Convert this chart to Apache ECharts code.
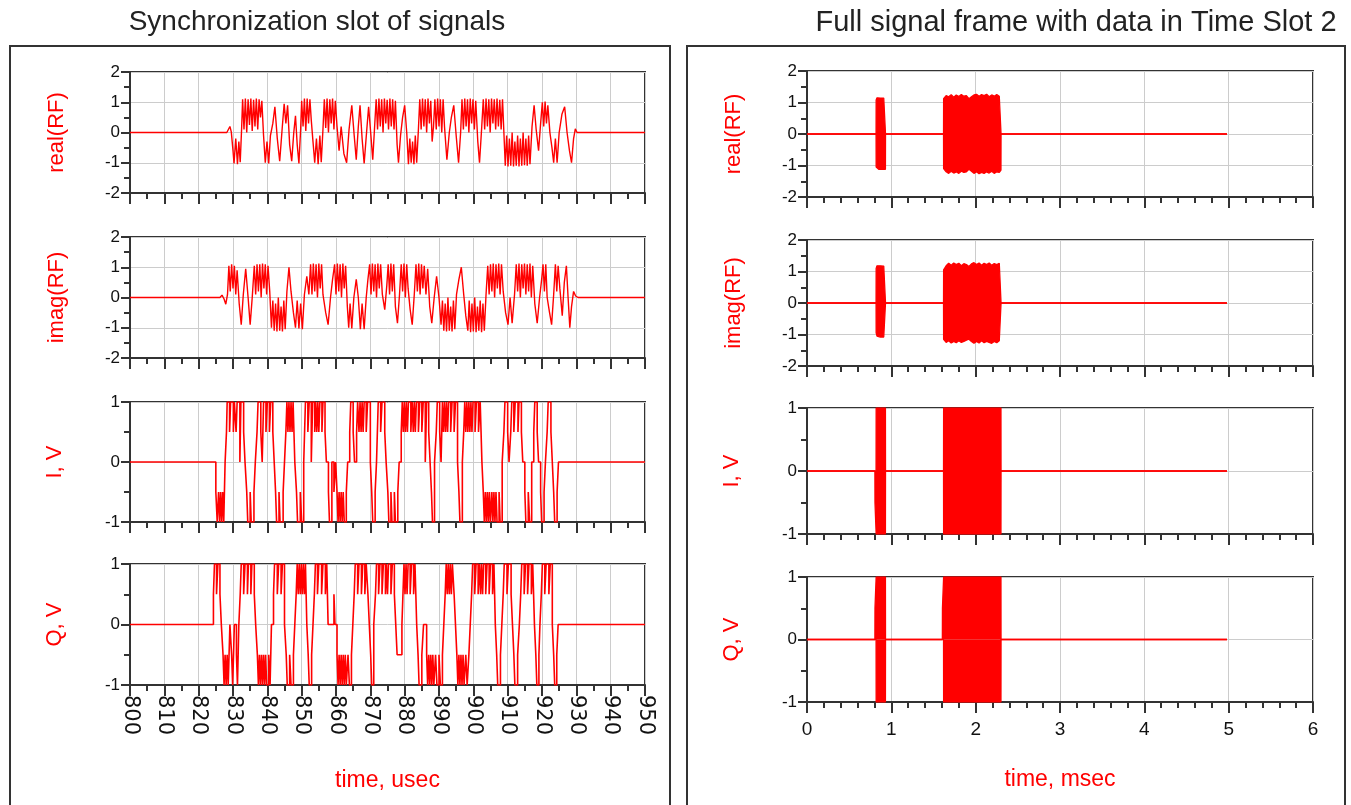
<!DOCTYPE html>
<html><head><meta charset="utf-8">
<script src="https://cdn.jsdelivr.net/npm/echarts@6/dist/echarts.min.js"></script>
<style>html,body{margin:0;padding:0;background:#fff}#c{width:1351px;height:805px}</style>
</head><body><div id="c"></div>
<script>
// ---------------- DATA ----------------
const panelTitles = ['Synchronization slot of signals', 'Full signal frame with data in Time Slot 2'];
const yNames = ['real(RF)', 'imag(RF)', 'I, V', 'Q, V'];
const xNames = ['time, usec', 'time, msec'];
const leftXRange = [800, 950, 10];   // min, max, interval (usec)
const rightXRange = [0, 6, 1];       // min, max, interval (msec)
const rfYRange = [-2, 2, 1];
const iqYRange = [-1, 1, 1];

// Left panel: synchronization slot, time in usec
const leftRealRF = [
[800,0],[828.2,0],[828.7,0.06],[829.1,0.2],[829.5,0.02],
[830.0,-0.6],[830.3,-1.02],[830.8,-0.2],[831.3,-1.05],[831.7,-0.3],[832.1,-0.98],[832.5,0.1],
[832.8,1.1],[833.2,0.1],[833.6,1.12],[834.0,0.0],[834.4,1.1],[834.8,0.25],[835.2,1.12],[835.6,0.05],[836.0,1.08],[836.4,0.2],[836.8,1.12],[837.2,0.1],[837.6,1.1],[838.0,0.5],[838.4,1.05],[838.9,-0.1],
[839.4,-1.0],[839.9,-0.3],[840.4,-1.02],[840.9,-0.1],
[841.6,0.3],[842.2,0.85],[842.9,-0.2],[843.6,-0.95],[844.3,0.1],[844.9,0.95],[845.4,0.3],[845.9,0.9],[846.5,-0.4],[847.1,-0.95],[847.7,0.0],[848.2,0.55],[848.7,-0.4],[849.2,-1.02],
[849.7,0.1],[850.0,1.05],[850.4,0.2],[850.8,1.12],[851.2,0.05],[851.6,1.12],[852.0,0.3],[852.4,1.1],[852.8,0.4],
[853.3,-0.3],[853.8,-1.0],[854.3,-0.2],[854.8,-1.05],[855.3,-0.1],[855.7,-0.98],[856.2,0.1],
[856.6,1.1],[857.0,0.15],[857.4,1.12],[857.8,0.0],[858.2,1.1],[858.6,0.3],[859.0,1.12],[859.4,0.1],[859.8,1.05],[860.3,0.2],
[860.9,-0.6],[861.5,0.2],[862.3,-0.7],[863.1,-1.0],[863.8,0.1],[864.6,0.9],[865.3,-0.1],[865.9,-0.9],[866.5,0.2],[867.0,0.9],[867.6,-0.2],[868.2,-1.02],
[868.9,0.0],[869.5,0.85],[870.1,0.0],[870.7,-0.9],[871.3,0.3],
[871.7,1.1],[872.1,0.1],[872.5,1.12],[872.9,0.2],[873.3,1.1],[873.7,0.0],[874.1,1.12],[874.5,0.3],[874.9,1.08],[875.3,0.1],[875.7,1.12],[876.1,0.2],[876.5,1.1],[876.9,0.1],[877.3,1.05],
[877.8,-0.4],[878.2,-1.0],[878.8,-0.1],[879.4,0.5],[880.0,0.9],[880.6,0.0],
[881.1,-1.05],[881.5,-0.2],[881.9,-1.0],[882.3,-0.3],[882.7,-1.05],[883.1,-0.1],[883.5,-1.0],[884.0,0.1],
[884.4,1.1],[884.8,0.1],[885.2,1.12],[885.6,0.2],[886.0,1.1],[886.4,0.0],[886.8,1.12],[887.2,0.3],[887.6,1.05],[888.0,-0.3],[888.4,0.2],[888.8,1.1],[889.2,0.1],[889.6,1.12],[890.0,0.2],[890.4,1.1],[890.8,0.0],[891.2,1.1],[891.6,0.2],
[892.3,-0.9],[893.0,0.0],[893.6,0.5],[894.3,0.9],[895.0,-0.1],[895.7,-1.0],[896.3,0.0],
[896.7,1.1],[897.1,0.1],[897.5,1.12],[897.9,0.2],[898.3,1.1],[898.7,0.0],[899.1,1.12],[899.5,0.3],[899.9,1.1],[900.3,0.1],[900.7,1.05],
[901.3,-0.3],[901.8,-1.0],[902.4,0.1],
[902.9,1.1],[903.3,0.1],[903.7,1.12],[904.1,0.2],[904.5,1.1],[904.9,0.0],[905.3,1.12],[905.7,0.3],[906.1,1.1],[906.5,0.1],[906.9,1.12],[907.3,0.2],[907.7,1.08],[908.1,0.1],[908.5,1.1],[908.9,0.0],
[909.3,-1.1],[909.7,-0.1],[910.1,-1.12],[910.5,-0.2],[910.9,-1.1],[911.3,0.0],[911.7,-1.12],[912.1,-0.3],[912.5,-1.1],[912.9,-0.1],[913.3,-1.12],[913.7,-0.2],[914.1,-1.1],[914.5,0.0],[914.9,-1.08],[915.3,-0.2],[915.7,-1.1],[916.1,-0.1],[916.5,-1.05],
[917.1,0.2],[917.7,0.9],[918.3,0.1],[919.0,-0.6],[919.6,0.3],[920.1,1.0],[920.5,0.2],[920.9,1.02],[921.3,0.3],[921.7,0.9],[922.3,0.0],[922.9,-0.5],[923.4,-1.0],[923.9,-0.2],[924.4,-1.0],[925.0,0.0],[925.8,0.6],[926.6,0.85],[927.3,0.0],[928.0,-0.6],[928.6,-1.0],[929.2,-0.2],[929.7,0.12],[930.2,0.0],
[950,0]
];

const leftImagRF = [
[800,0],[826.2,0],[826.8,0.08],[827.4,-0.05],[827.9,-0.22],[828.4,0.1],
[828.8,1.05],[829.2,0.2],[829.6,1.1],[830.0,0.3],[830.4,1.05],[830.8,0.1],[831.2,0.9],
[831.8,-0.2],[832.4,-0.9],[833.0,0.1],[833.7,0.95],[834.4,0.0],[835.0,-0.9],[835.6,0.0],
[836.2,1.05],[836.6,0.1],[837.0,1.1],[837.4,0.2],[837.8,1.1],[838.2,0.0],[838.6,1.12],[839.0,0.3],[839.4,1.1],[839.8,0.1],[840.2,1.05],[840.7,0.2],
[841.2,-1.0],[841.6,-0.1],[842.0,-1.1],[842.4,-0.2],[842.8,-1.12],[843.2,0.0],[843.6,-1.1],[844.0,-0.3],[844.4,-1.12],[844.8,-0.1],[845.2,-1.05],[845.7,0.2],
[846.3,1.0],[846.9,0.2],[847.6,-0.5],[848.2,-1.0],[848.7,-0.1],[849.2,-1.02],[849.7,-0.2],[850.2,-1.05],[850.8,0.1],
[851.5,0.7],[852.1,0.1],[852.6,1.1],[853.0,0.1],[853.4,1.12],[853.8,0.2],[854.2,1.1],[854.6,0.0],[855.0,1.12],[855.4,0.3],[855.8,1.1],[856.2,0.1],
[857.0,-0.5],[857.7,-0.9],[858.4,0.0],[859.0,0.6],
[859.6,1.1],[860.0,0.1],[860.4,1.12],[860.8,0.2],[861.2,1.1],[861.6,0.0],[862.0,1.12],[862.4,0.3],[862.8,1.05],
[863.3,-0.3],[863.7,-1.0],[864.1,-0.2],[864.6,-1.02],[865.2,0.0],[865.9,0.6],[866.5,0.0],[867.1,-1.05],[867.6,-0.2],[868.2,-1.05],[868.8,0.0],
[869.3,0.6],[869.8,1.1],[870.2,0.1],[870.6,1.12],[871.0,0.2],[871.4,1.1],[871.8,0.0],[872.2,1.12],[872.6,0.3],[873.0,1.1],[873.5,0.1],
[874.2,-0.4],[874.8,0.4],[875.2,1.1],[875.6,0.1],[876.0,1.12],[876.4,0.2],[876.8,1.1],[877.3,-0.3],[877.9,-0.85],[878.5,0.1],[879.0,1.1],[879.4,0.2],[879.8,1.12],[880.2,0.0],[880.6,1.1],[881.0,0.3],[881.6,-0.4],[882.2,-0.9],[882.8,0.1],[883.3,1.1],[883.7,0.2],[884.1,1.12],[884.5,0.1],[884.9,1.1],[885.3,0.3],[885.7,1.05],[886.2,0.1],[886.7,0.95],
[887.3,-0.3],[887.9,-0.85],[888.6,0.0],[889.3,0.7],[890.0,0.0],
[890.6,-0.9],[891.0,-0.1],[891.4,-1.1],[891.8,-0.2],[892.2,-1.12],[892.6,0.0],[893.0,-1.1],[893.4,-0.3],[893.8,-1.12],[894.2,-0.1],[894.6,-1.05],[895.1,0.1],
[895.8,0.6],[896.5,1.0],[897.2,0.1],[897.8,-0.6],
[898.4,-1.1],[898.8,-0.1],[899.2,-1.15],[899.6,-0.2],[900.0,-1.12],[900.4,0.0],[900.8,-1.15],[901.2,-0.3],[901.6,-1.1],[902.0,-0.1],[902.4,-1.15],[902.8,-0.2],[903.2,-1.1],[903.7,0.1],
[904.2,1.05],[904.6,0.1],[905.0,1.1],[905.4,0.2],[905.8,1.12],[906.2,0.0],[906.6,1.1],[907.0,0.3],[907.4,1.12],[907.8,0.1],[908.2,1.1],[908.7,0.2],
[909.4,-0.5],[910.1,-0.9],[910.7,0.0],[911.3,-0.85],[912.0,0.1],
[912.5,1.1],[912.9,0.2],[913.3,1.12],[913.7,0.0],[914.1,1.1],[914.5,0.3],[914.9,1.12],[915.3,0.1],[915.7,1.1],[916.1,0.2],[916.5,1.12],[916.9,0.0],[917.3,1.05],
[917.9,-0.2],[918.6,-0.85],[919.3,0.0],[919.9,0.6],[920.3,1.1],[920.7,0.2],[921.1,1.1],[921.5,0.0],[922.2,-0.5],[922.8,-0.9],[923.4,0.1],[923.9,1.1],[924.3,0.2],[924.7,1.05],[925.2,0.3],
[925.9,-0.6],[926.5,0.5],[927.1,1.05],[927.6,0.0],[928.1,-1.0],[928.6,-0.3],[929.2,0.2],[929.8,0.05],[930.5,0.0],
[950,0]
];

// I and Q: level changes [time, new level] (held until the next change)
const leftI = [
[800,0],
[825.0,-0.5],[825.4,-1],[825.8,-0.5],[826.1,-1],[826.4,-0.5],[826.7,-1],[827.0,-0.5],[827.3,-1],[827.7,0],
[828.1,0.5],[828.3,1],[829.0,0.5],[829.3,1],[830.1,0.5],[830.4,1],[830.9,0.5],[831.2,1],[832.0,0],[832.3,1],[833.1,0.5],[833.5,0],
[834.0,-0.5],[834.3,-1],[835.0,-0.5],[835.3,-1],[836.1,-0.5],[836.5,0],
[837.0,0.5],[837.3,1],[838.1,0.5],[838.5,0],[838.9,1],[839.6,0.5],[840.0,1],[840.6,0.5],[841.0,1],[841.6,0.5],[842.0,0],
[842.4,-0.5],[842.7,-1],[843.4,-0.5],[843.7,-1],[844.6,-0.5],[845.0,0],
[845.4,0.5],[845.7,1],[846.0,0.5],[846.3,1],[846.6,0.5],[846.9,1],[847.2,0.5],[847.5,1],[848.0,0],
[848.5,-0.5],[848.8,-1],[849.6,-0.5],[850.0,-1],[850.6,0],
[851.1,1],[851.8,0.5],[852.2,1],[852.8,0],[853.2,1],[853.8,0.5],[854.1,1],[854.4,0.5],[854.7,1],[855.0,0.5],[855.3,1],[855.9,0.5],[856.2,1],[856.8,0.5],[857.2,0],
[857.8,-0.5],[858.1,-1],[858.8,0],[859.4,-0.5],[859.9,0],
[860.3,-0.5],[860.6,-1],[860.9,-0.5],[861.2,-1],[861.5,-0.5],[861.8,-1],[862.1,-0.5],[862.4,-1],[863.0,-0.5],[863.4,0],
[864.0,0.5],[864.3,1],[865.0,0.5],[865.4,0],
[866.0,0.5],[866.3,1],[866.7,0.5],[867.0,1],[867.3,0.5],[867.6,1],[867.9,0.5],[868.2,1],[868.8,0.5],[869.2,1],[870.0,0],
[870.4,-0.5],[870.7,-1],[871.4,-0.5],[871.8,0],
[872.3,1],[873.0,0.5],[873.4,1],[874.2,0.5],[874.6,0],
[875.1,-0.5],[875.4,-1],[876.0,-0.5],[876.3,-1],[877.0,-0.5],[877.3,-1],[878.0,-0.5],[878.4,0],
[879.0,0.5],[879.3,1],[879.6,0.5],[879.9,1],[880.2,0.5],[880.5,1],[880.8,0.5],[881.1,1],[881.8,0.5],[882.2,1],[882.5,0.5],[882.8,1],[883.1,0.5],[883.4,1],[884.0,0.5],[884.4,1],[885.0,0.5],[885.4,1],[886.0,0],[886.4,1],[887.0,0.5],[887.4,0],
[887.8,-0.5],[888.1,-1],[888.7,0],
[889.2,0.5],[889.5,1],[890.2,0.5],[890.6,0],
[891.0,1],[891.3,0.5],[891.6,1],[891.9,0.5],[892.2,1],[892.5,0.5],[892.8,1],[893.4,0.5],[893.8,1],[894.4,0.5],[894.8,1],[895.4,0],
[895.8,-0.5],[896.1,-1],[896.8,0],
[897.2,0.5],[897.5,1],[897.8,0.5],[898.1,1],[898.4,0.5],[898.7,1],[899.0,0.5],[899.3,1],[899.6,0.5],[899.9,1],[900.5,0.5],[900.9,1],[901.5,0.5],[902.0,1],[902.5,0],
[902.9,-0.5],[903.2,-1],[903.5,-0.5],[903.8,-1],[904.1,-0.5],[904.4,-1],[904.7,-0.5],[905.0,-1],[905.4,-0.5],[905.7,-1],[906.0,-0.5],[906.3,-1],[906.6,-0.5],[906.9,-1],[907.5,-0.5],[907.8,-1],[908.4,0],
[908.9,0.5],[909.2,1],[910.0,0.5],[910.4,0],
[910.9,0.5],[911.2,1],[911.8,0.5],[912.2,1],[913.0,0.5],[913.3,1],[914.0,0.5],[914.4,0],
[915.0,-0.5],[915.3,-1],[916.0,-0.5],[916.4,-1],[917.0,0],
[917.6,0.5],[917.9,1],[918.6,0.5],[919.0,0],
[919.6,-0.5],[919.9,-1],[920.6,-0.5],[921.0,0],
[921.5,0.5],[921.8,1],[922.6,0.5],[923.0,0],
[923.4,-0.5],[923.7,-1],[924.4,-0.5],[924.8,0],
[950,0]
];

const leftQ = [
[800,0],
[824.3,0.5],[824.6,1],[825.2,0.5],[825.6,1],[826.2,0.5],[826.6,0],
[827.1,-0.5],[827.4,-1],[827.7,-0.5],[828.0,-1],[828.3,-0.5],[828.6,-1],[829.1,0],
[829.6,-0.5],[829.9,-1],[830.4,0],[831.0,-0.5],[831.3,-1],[831.7,0],
[832.1,0.5],[832.4,1],[833.1,0.5],[833.5,1],[834.2,0.5],[834.5,1],[835.2,0.5],[835.5,1],[836.2,0.5],[836.6,0],
[837.1,-0.5],[837.4,-1],[837.7,-0.5],[838.0,-1],[838.3,-0.5],[838.6,-1],[838.9,-0.5],[839.2,-1],[839.5,-0.5],[839.8,-1],[840.4,-0.5],[840.8,-1],[841.2,0],
[841.8,0.5],[842.1,1],[842.9,0.5],[843.3,1],[844.0,0.5],[844.4,1],[845.0,0],
[845.5,-0.5],[845.8,-1],[846.5,-0.5],[846.9,-1],[847.6,-0.5],[848.0,0],
[848.4,0.5],[848.7,1],[849.0,0.5],[849.3,1],[849.6,0.5],[849.9,1],[850.2,0.5],[850.5,1],[850.8,0.5],[851.1,1],[851.5,0],
[851.9,-0.5],[852.2,-1],[852.9,-0.5],[853.3,0],
[853.7,0.5],[854.0,1],[854.6,0.5],[855.0,1],[855.8,0.5],[856.2,1],[856.9,0.5],[857.3,1],[857.7,0],
[859.4,0.5],[859.7,0],
[860.3,-0.5],[860.6,-1],[860.9,-0.5],[861.2,-1],[861.5,-0.5],[861.8,-1],[862.1,-0.5],[862.4,-1],[862.7,-0.5],[863.0,-1],[863.5,-0.5],[863.9,-1],[864.5,-0.5],[864.9,0],
[865.3,0.5],[865.6,1],[866.3,0.5],[866.7,1],[867.4,0.5],[867.8,1],[868.4,0.5],[868.8,1],[869.3,0.5],[869.7,0],
[870.1,-0.5],[870.4,-1],[871.0,0],
[871.5,0.5],[871.8,1],[872.4,0.5],[872.8,1],[873.4,0.5],[873.8,1],[874.4,0.5],[874.7,1],[875.0,0.5],[875.3,1],[876.0,0.5],[876.4,1],[877.0,0.5],[877.4,0],
[877.8,-0.5],[878.6,-0.5],[879.2,0],
[879.5,0.5],[879.8,1],[880.1,0.5],[880.4,1],[880.7,0.5],[881.0,1],[881.6,0.5],[882.0,1],[882.6,0.5],[883.0,1],[883.5,0],
[883.9,-0.5],[884.2,-1],[885.0,-0.5],[885.5,0],
[886.4,-0.5],[886.7,-1],[887.0,-0.5],[887.3,-1],[887.6,-0.5],[887.9,-1],[888.2,-0.5],[888.5,-1],[889.0,-0.5],[889.4,-1],[890.0,-0.5],[890.4,-1],[891.0,-0.5],[891.4,0],
[891.8,0.5],[892.1,1],[892.4,0.5],[892.7,1],[893.0,0.5],[893.3,1],[893.6,0.5],[893.9,1],[894.4,0.5],[894.8,0],
[895.2,-0.5],[895.5,-1],[895.8,-0.5],[896.1,-1],[896.4,-0.5],[896.7,-1],[897.0,-0.5],[897.3,-1],[897.8,-0.5],[898.2,-1],[898.7,-0.5],[899.1,0],
[899.5,0.5],[899.8,1],[900.4,0.5],[900.8,1],[901.4,0.5],[901.8,1],[902.1,0.5],[902.4,1],[902.7,0.5],[903.0,1],[903.6,0.5],[904.0,1],[904.6,0.5],[905.0,1],[905.6,0.5],[906.0,1],[906.4,0],
[906.8,-0.5],[907.1,-1],[907.9,-0.5],[908.3,0],
[908.7,0.5],[909.0,1],[909.8,0.5],[910.2,1],[911.0,0.5],[911.4,0],
[911.8,-0.5],[912.1,-1],[912.9,-0.5],[913.4,0],
[913.8,0.5],[914.1,1],[914.8,0.5],[915.2,1],[915.8,0.5],[916.2,1],[916.9,0.5],[917.3,1],[917.8,0],
[918.2,-0.5],[918.5,-1],[919.1,-0.5],[919.4,0],
[919.8,0.5],[920.1,1],[920.8,0.5],[921.2,1],[922.0,0.5],[922.4,1],[923.0,0],
[923.4,-0.5],[923.7,-1],[924.3,-0.5],[924.7,0],
[950,0]
];

// Right panel: full frame, time in msec. Upper / lower envelopes of each trace.
const rightRealUp = [[0,0],[0.819,0],[0.82,1.08],[0.83,1.15],[0.85,1.16],[0.87,1.14],[0.89,1.15],[0.91,1.14],[0.93,1.1],[0.931,0],
[1.619,0],[1.62,1.12],[1.65,1.22],[1.68,1.18],[1.71,1.25],[1.74,1.17],[1.77,1.24],[1.80,1.19],[1.83,1.25],[1.86,1.2],[1.89,1.22],[1.92,1.12],[1.95,1.18],[1.98,1.24],[2.01,1.26],[2.04,1.2],[2.07,1.25],[2.10,1.22],[2.13,1.26],[2.16,1.18],[2.19,1.24],[2.22,1.2],[2.25,1.25],[2.28,1.2],[2.30,1.15],[2.301,0],[4.98,0]];
const rightRealLo = [[0,0],[0.819,0],[0.82,-1.05],[0.83,-1.1],[0.85,-1.12],[0.87,-1.1],[0.89,-1.12],[0.91,-1.13],[0.93,-1.12],[0.931,0],
[1.619,0],[1.62,-1.1],[1.65,-1.2],[1.68,-1.25],[1.71,-1.18],[1.74,-1.24],[1.77,-1.2],[1.80,-1.25],[1.83,-1.18],[1.86,-1.22],[1.89,-1.2],[1.92,-1.12],[1.95,-1.18],[1.98,-1.25],[2.01,-1.2],[2.04,-1.26],[2.07,-1.22],[2.10,-1.25],[2.13,-1.2],[2.16,-1.24],[2.19,-1.18],[2.22,-1.25],[2.25,-1.2],[2.28,-1.22],[2.30,-1.15],[2.301,0],[4.98,0]];
const rightImagUp = [[0,0],[0.819,0],[0.82,1.1],[0.83,1.18],[0.85,1.17],[0.87,1.18],[0.89,1.16],[0.91,1.17],[0.93,1.12],[0.931,0],
[1.619,0],[1.62,1.05],[1.65,1.18],[1.68,1.26],[1.71,1.2],[1.74,1.27],[1.77,1.22],[1.80,1.26],[1.83,1.18],[1.86,1.25],[1.89,1.22],[1.92,1.16],[1.95,1.24],[1.98,1.28],[2.01,1.22],[2.04,1.27],[2.07,1.2],[2.10,1.26],[2.13,1.22],[2.16,1.27],[2.19,1.2],[2.22,1.25],[2.25,1.22],[2.28,1.26],[2.30,1.2],[2.301,0],[4.98,0]];
const rightImagLo = [[0,0],[0.819,0],[0.82,-0.95],[0.83,-1.05],[0.85,-1.1],[0.87,-1.08],[0.89,-1.1],[0.91,-1.08],[0.93,-1.02],[0.931,0],
[1.619,0],[1.62,-1.15],[1.65,-1.25],[1.68,-1.2],[1.71,-1.27],[1.74,-1.22],[1.77,-1.26],[1.80,-1.2],[1.83,-1.25],[1.86,-1.22],[1.89,-1.18],[1.92,-1.15],[1.95,-1.22],[1.98,-1.28],[2.01,-1.22],[2.04,-1.27],[2.07,-1.2],[2.10,-1.26],[2.13,-1.22],[2.16,-1.25],[2.19,-1.28],[2.22,-1.22],[2.25,-1.26],[2.28,-1.2],[2.30,-1.22],[2.301,0],[4.98,0]];
const rightIUp = [[0,0],[0.819,0],[0.82,1],[0.93,1],[0.931,0],[1.619,0],[1.62,1],[2.30,1],[2.301,0],[4.98,0]];
const rightILo = [[0,0],[0.805,0],[0.806,-0.5],[0.819,-0.5],[0.82,-1],[0.93,-1],[0.931,0],[1.619,0],[1.62,-1],[2.30,-1],[2.301,0],[4.98,0]];
const rightQUp = [[0,0],[0.805,0],[0.806,0.5],[0.819,0.5],[0.82,1],[0.93,1],[0.931,0],[1.605,0],[1.606,0.5],[1.619,0.5],[1.62,1],[2.30,1],[2.301,0],[4.98,0]];
const rightQLo = [[0,0],[0.819,0],[0.82,-1],[0.93,-1],[0.931,0],[1.619,0],[1.62,-1],[2.30,-1],[2.301,0],[4.98,0]];

// ---------------- LAYOUT / STYLE ----------------
const FONT = 'Liberation Sans';
const RED = '#ff0000';
const DARK = '#333333';
const GRIDC = '#cccccc';

const leftGrids = [[72,121],[237,121],[402,120],[564,121]];
const rightGrids = [[71,126],[240,126],[408,126],[577,125]];

// Level-change list -> sample-and-hold trace (vertical edge at each change time)
function holdTrace(changes) {
  const out = [];
  changes.forEach((p, i) => {
    if (i > 0) out.push([p[0], changes[i - 1][1]]);
    out.push([p[0], p[1]]);
  });
  return out;
}

const grids = [];
const xAxes = [];
const yAxes = [];
const series = [];

function yAxisCfg(gi, k, gap) {
  const r = k < 2 ? rfYRange : iqYRange;
  return {
    type: 'value', gridIndex: gi, min: r[0], max: r[1], interval: r[2],
    name: yNames[k], nameLocation: 'middle', nameRotate: 90, nameGap: gap,
    nameTextStyle: {color: RED, fontSize: 22, fontFamily: FONT},
    axisLine: {show: true, lineStyle: {color: DARK, width: 2}},
    axisTick: {show: true, length: 9, lineStyle: {color: DARK, width: 2}},
    minorTick: {show: true, splitNumber: 2, length: 6, lineStyle: {color: DARK, width: 2}},
    axisLabel: {color: '#111', fontSize: 17, fontFamily: FONT, margin: 10},
    splitLine: {show: true, lineStyle: {color: GRIDC, width: 1}}
  };
}

function xAxisCfg(gi, rng, minorSplit, bottom, rotate, name, nameGap, labelMargin) {
  return {
    type: 'value', gridIndex: gi, min: rng[0], max: rng[1], interval: rng[2],
    name: bottom ? name : '', nameLocation: 'middle', nameGap: nameGap,
    nameTextStyle: {color: RED, fontSize: 23, fontFamily: FONT},
    axisLine: {show: true, onZero: false, lineStyle: {color: DARK, width: 2}},
    axisTick: {show: true, length: 11, lineStyle: {color: DARK, width: 2}},
    minorTick: {show: true, splitNumber: minorSplit, length: 6, lineStyle: {color: DARK, width: 2}},
    axisLabel: {show: bottom, rotate: rotate, color: '#111',
      fontSize: rotate ? 21 : 19, fontFamily: rotate ? 'DejaVu Sans' : FONT, margin: labelMargin},
    splitLine: {show: true, lineStyle: {color: GRIDC, width: 1}}
  };
}

const leftData = [leftRealRF, leftImagRF, holdTrace(leftI), holdTrace(leftQ)];
leftGrids.forEach((g, k) => {
  const gi = grids.length;
  grids.push({left: 130, top: g[0], width: 515, height: g[1], show: true, borderColor: DARK, borderWidth: 2});
  xAxes.push(xAxisCfg(gi, leftXRange, 2, k === 3, -90, xNames[0], 84, 10));
  yAxes.push(yAxisCfg(gi, k, k < 2 ? 62 : 64));
  series.push({
    type: 'line', xAxisIndex: gi, yAxisIndex: gi, data: leftData[k],
    showSymbol: false, symbol: 'none',
    lineStyle: {color: RED, width: k >= 2 ? 1.6 : 1.4}, itemStyle: {color: RED},
    sampling: null, animation: false
  });
});

const rightUp = [rightRealUp, rightImagUp, rightIUp, rightQUp];
const rightLo = [rightRealLo, rightImagLo, rightILo, rightQLo];
rightGrids.forEach((g, k) => {
  const gi = grids.length;
  grids.push({left: 807, top: g[0], width: 506, height: g[1], show: true, borderColor: DARK, borderWidth: 2});
  xAxes.push(xAxisCfg(gi, rightXRange, 5, k === 3, 0, xNames[1], 66, 18));
  yAxes.push(yAxisCfg(gi, k, k < 2 ? 62 : 64));
  [rightUp[k], rightLo[k]].forEach(d => {
    series.push({
      type: 'line', xAxisIndex: gi, yAxisIndex: gi, data: d,
      showSymbol: false, symbol: 'none',
      lineStyle: {color: RED, width: 1.3}, itemStyle: {color: RED},
      areaStyle: {color: RED, opacity: 1, origin: 0},
      animation: false
    });
  });
});

const option = {
  backgroundColor: '#ffffff',
  animation: false,
  textStyle: {fontFamily: FONT},
  title: [
    {text: panelTitles[0], left: 312, top: 3, textAlign: 'center',
     textStyle: {fontSize: 28, fontWeight: 'normal', color: '#222', fontFamily: FONT}},
    {text: panelTitles[1], left: 1071, top: 3, textAlign: 'center',
     textStyle: {fontSize: 29, fontWeight: 'normal', color: '#222', fontFamily: FONT}}
  ],
  graphic: [
    {type: 'rect', shape: {x: 10, y: 46, width: 660, height: 790}, style: {fill: 'none', stroke: DARK, lineWidth: 2}, silent: true},
    {type: 'rect', shape: {x: 687, y: 46, width: 658, height: 790}, style: {fill: 'none', stroke: DARK, lineWidth: 2}, silent: true}
  ],
  grid: grids,
  xAxis: xAxes,
  yAxis: yAxes,
  series: series
};

const chart = echarts.init(document.getElementById('c'), null, {renderer: 'canvas'});
chart.setOption(option);
</script></body></html>
